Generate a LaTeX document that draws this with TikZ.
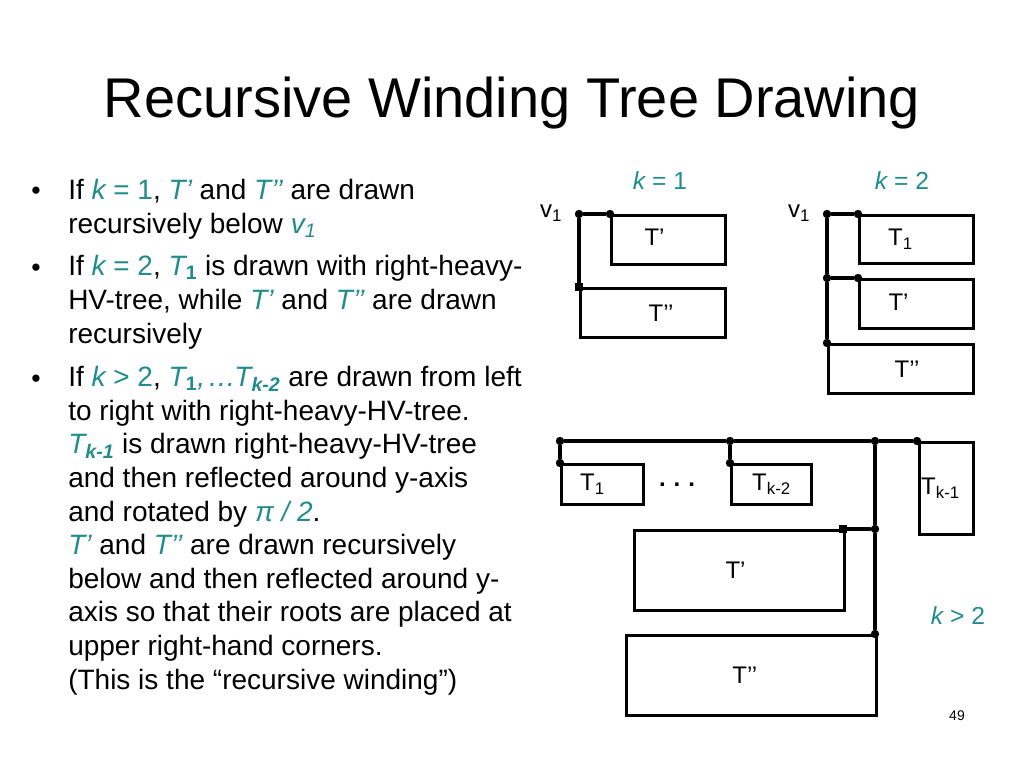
\documentclass[tikz,border=0pt]{standalone}
\usepackage{fontspec}
\setmainfont{Liberation Sans}
\usetikzlibrary{positioning}

\definecolor{tealk}{RGB}{32,140,140}
\newcommand{\hl}[1]{\textcolor{tealk}{#1}}
\newcommand{\hi}[1]{\textcolor{tealk}{\itshape #1}}
\newcommand{\px}{0.75pt}

\begin{document}
\begin{tikzpicture}[
  x=0.75pt, y=-0.75pt,
  title/.style={font=\fontsize{42}{50}\selectfont, anchor=base},
  bullettext/.style={font=\fontsize{21}{25.2}\selectfont, align=left, anchor=base west, inner sep=0pt},
  bulletmark/.style={font=\fontsize{20}{25.2}\selectfont, anchor=base west, inner sep=0pt},
  tbox/.style={draw, line width=2.3pt, anchor=north west, inner sep=0pt},
  boxlabel/.style={font=\fontsize{18}{21}\selectfont},
  caselabel/.style={font=\fontsize{18.5}{21}\selectfont, text=tealk},
  rootlabel/.style={font=\fontsize{18}{21}\selectfont},
  rdot/.style={circle, fill, inner sep=0pt, minimum size=6.3pt},
  sdot/.style={rectangle, fill, inner sep=0pt, minimum size=5.5pt},
  link/.style={line width=2.3pt}
]
\useasboundingbox (0,0) rectangle (1024,768);

% title
\node[title] (ttl) at (512,117) {Recursive Winding Tree Drawing};

% bullet list (anchored at the baseline of the last line)
\node[bulletmark] (b1) at (31,199) {•};
\node[bullettext] (t1) at (68,233) {If \hi{k} \hl{= 1}, \hi{T’} and \hi{T’’} are drawn\\
recursively below \hi{v\textsubscript{1}}};
\node[bulletmark] (b2) at (31,276) {•};
\node[bullettext] (t2) at (68,343) {If \hi{k} \hl{= 2}, \hi{T\textsubscript{\upshape\bfseries 1}} is drawn with right-heavy-\\
HV-tree, while \hi{T’} and \hi{T’’} are drawn\\
recursively};
\node[bulletmark] (b3) at (31,387) {•};
\node[bullettext] (t3) at (68,689) {If \hi{k} \hl{> 2}, \hi{T\textsubscript{\upshape\bfseries 1},\kern2pt…\kern-1pt T\textsubscript{\textbf{k-2}}} are drawn from left\\
to right with right-heavy-HV-tree.\\
\hi{T\textsubscript{\textbf{k-1}}} is drawn right-heavy-HV-tree\\
and then reflected around y-axis\\
and rotated by \hi{π / 2}.\\
\hi{T’} and \hi{T’’} are drawn recursively\\
below and then reflected around y-\\
axis so that their roots are placed at\\
upper right-hand corners.\\
(This is the “recursive winding”)};

% case k = 1
\node[caselabel] (c1) at (660,181) {\itshape k\upshape\ = 1};
\node[rootlabel] (v1a) at (551,213) {v\textsubscript{1}};
\node[tbox, minimum width=114*\px, minimum height=49*\px] (k1p) at (610,214) {};
\node[tbox, minimum width=145*\px, minimum height=49*\px] (k1pp) at (579,287) {};
\node[boxlabel] at ([xshift=-10.5pt,yshift=2pt]k1p.center) {T’};
\node[boxlabel] at ([xshift=6pt]k1pp.center) {T’’};
\node[rdot] (d1r) at (579,214) {};
\node[rdot] (d1a) at (610,214) {};
\node[sdot] (d1b) at (579,287) {};
\draw[link] (d1r) -- (d1a);
\draw[link] (d1r) -- (d1b);

% case k = 2
\node[caselabel] (c2) at (902,181) {\itshape k\upshape\ = 2};
\node[rootlabel] (v1b) at (799,213) {v\textsubscript{1}};
\node[tbox, minimum width=114*\px, minimum height=48*\px] (k2a) at (858,214) {};
\node[tbox, minimum width=114*\px, minimum height=49*\px] (k2p) at (858,278) {};
\node[tbox, minimum width=145*\px, minimum height=49*\px] (k2pp) at (827,343) {};
\node[boxlabel] at ([xshift=-12pt]k2a.center) {T\textsubscript{1}};
\node[boxlabel] at ([xshift=-13.5pt,yshift=1.5pt]k2p.center) {T’};
\node[boxlabel] at ([xshift=4.5pt]k2pp.center) {T’’};
\node[rdot] (d2r) at (827,214) {};
\node[rdot] (d2a) at (858,214) {};
\node[rdot] (d2m) at (827,278) {};
\node[rdot] (d2b) at (858,278) {};
\node[rdot] (d2c) at (827,343) {};
\draw[link] (d2r) -- (d2a);
\draw[link] (d2r) -- (d2m) -- (d2c);
\draw[link] (d2m) -- (d2b);

% case k > 2
\node[caselabel] (c3) at (958,616) {\itshape k\upshape\ > 2};
\node[tbox, minimum width=82*\px, minimum height=40*\px] (g1) at (560,463) {};
\node[tbox, minimum width=80*\px, minimum height=40*\px] (gk2) at (730,463) {};
\node[tbox, minimum width=54*\px, minimum height=92*\px] (gk1) at (918,441) {};
\node[tbox, minimum width=210*\px, minimum height=80*\px] (gp) at (633,529) {};
\node[tbox, minimum width=250*\px, minimum height=80*\px] (gpp) at (625,634) {};
\node[boxlabel] at ([xshift=-7.5pt]g1.center) {T\textsubscript{1}};
\node[boxlabel, font=\fontsize{18}{21}\selectfont\bfseries] (gdots) at (677,485) {.\,\,.\,\,.};
\node[boxlabel] at (gk2.center) {T\textsubscript{k-2}};
\node[boxlabel] at ([xshift=-4.5pt]gk1.center) {T\textsubscript{k-1}};
\node[boxlabel] at ([xshift=-3pt]gp.center) {T’};
\node[boxlabel] at ([xshift=-5pt]gpp.center) {T’’};
\node[rdot] (g0) at (560,441) {};
\node[rdot] (g0b) at (560,463) {};
\node[rdot] (gm) at (730,441) {};
\node[rdot] (gmb) at (730,463) {};
\node[rdot] (gr) at (875,441) {};
\node[rdot] (gs) at (917,441) {};
\node[rdot] (gq) at (875,529) {};
\node[sdot] (gqs) at (843,529) {};
\node[rdot] (gt) at (875,634) {};
\draw[link] (g0) -- (gm) -- (gr) -- (gs);
\draw[link] (g0) -- (g0b);
\draw[link] (gm) -- (gmb);
\draw[link] (gr) -- (gq) -- (gt);
\draw[link] (gq) -- (gqs);

% page number
\node[font=\fontsize{10.5}{12}\selectfont] (pg) at (957,716) {49};
\end{tikzpicture}
\end{document}
